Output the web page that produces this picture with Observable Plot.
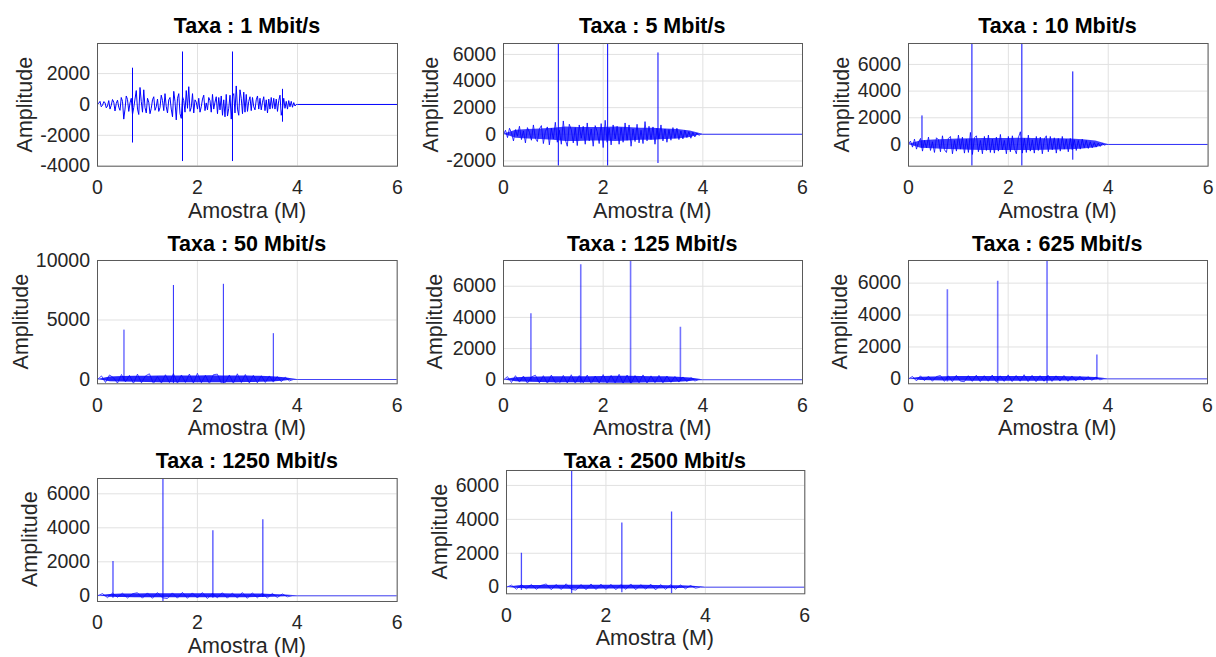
<!DOCTYPE html>
<html><head><meta charset="utf-8">
<script src="https://cdn.jsdelivr.net/npm/d3@7"></script>
<script src="https://cdn.jsdelivr.net/npm/@observablehq/plot@0.6"></script>
<style>
html,body{margin:0;padding:0;background:#fff;}
#fig{position:relative;width:1216px;height:657px;overflow:hidden;font-family:"Liberation Sans",Arial,Helvetica,sans-serif;}
#fig svg{position:absolute;overflow:visible;}
</style></head><body><div id="fig"></div>
<script>
// ---------------- data ----------------
const titles = ["Taxa : 1 Mbit/s","Taxa : 5 Mbit/s","Taxa : 10 Mbit/s","Taxa : 50 Mbit/s",
  "Taxa : 125 Mbit/s","Taxa : 625 Mbit/s","Taxa : 1250 Mbit/s","Taxa : 2500 Mbit/s"];
const xLabel = "Amostra (M)";
const yLabel = "Amplitude";
const xTicks = [0, 2, 4, 6];
const xDomain = [0, 6];
const signalEnd = 4;          // M samples where the received signal stops
const silence = [4, 6];       // zero-valued samples after the signal

const yTicks1 = [-4000, -2000, 0, 2000];
const yTicks2 = [-2000, 0, 2000, 4000, 6000];
const yTicks3 = [0, 2000, 4000, 6000];
const yTicks4 = [0, 5000, 10000];
const yTicks5 = [0, 2000, 4000, 6000];
const yDomain1 = [-4000, 3950];
const yDomain2 = [-2400, 6820];
const yDomain3 = [-1630, 7570];
const yDomain4 = [-360, 10000];
const yDomain5 = [-260, 7650];
const yDomain6 = [-310, 7420];
const yDomain7 = [-335, 6900];
const yDomain8 = [-390, 6880];

// noise samples (evenly spread over 0..4 M)
const noise1 = [0,80,200,-150,-60,180,120,-220,-100,250,
 -300,-50,320,150,-420,60,280,-180,-380,450,
 200,-950,-300,550,320,-450,100,400,-650,-200,
 350,900,-300,-650,1100,200,-500,950,-200,-550,
 400,150,-600,-250,300,500,-380,-150,350,-450,
 -200,600,250,-400,700,-150,-550,300,450,-300,
 -800,850,200,-1000,400,700,-600,-900,500,250,
 -500,900,-250,1150,-450,-200,700,-550,300,150,
 -300,400,-500,-150,350,600,-400,100,-350,450,
 250,-500,650,-300,150,500,-600,450,-350,550,
 -700,300,-800,650,-750,-250,600,-950,550,700,
 -550,1200,-300,-700,950,400,-600,800,-500,650,
 -450,200,500,-400,450,-150,-350,300,550,-300,
 400,-350,150,500,-400,300,-550,350,-300,450,
 -250,400,-300,350,-450,250,600,-700,-300,400,
 -250,200,-300,250,-150,200,-180,120,-100,0];
const noise2 = [0,300,-250,450,100,-500,350,-150,600,-400,
 250,-650,500,150,-450,700,-300,-550,400,650,
 -700,200,550,-800,450,-350,900,-600,300,-750,
 1000,-400,-900,750,350,-650,500,-850,700,-300,
 600,-750,850,-500,400,-900,650,200,-700,800,
 -1000,1050,-600,450,-800,700,-350,600,-750,500,
 -600,850,-450,700,-900,400,-550,750,-650,300,
 -700,950,-500,600,-400,550,-750,450,-350,700,
 -500,400,-600,350,-450,500,-300,450,-400,250,
 -350,300,-250,200,-300,150,-200,100,-80,0];
const noise3 = [0,250,-200,400,-350,150,450,-500,300,-250,
 550,-450,200,-600,500,350,-550,650,-400,-600,
 450,600,-700,300,-500,700,-350,550,-650,400,
 -600,900,-750,500,650,-550,300,-700,600,-450,
 700,-600,400,-650,550,-500,750,-400,300,-700,
 600,-550,650,-300,-700,500,950,-650,450,-600,
 700,-500,350,-650,600,-450,550,-700,400,650,
 -550,600,-400,500,-650,450,-500,600,-350,400,
 -550,450,-400,350,-450,300,-350,400,-250,300,
 -300,200,-250,150,-200,100,-150,80,-50,0];
const noise4 = [0,300,-250,380,150,-300,420,-200,350,-330,450,-280,300,480,-350,250,-300,400,-260,500,
 -320,380,-250,460,-300,520,-280,350,-340,400,450,-300,-250,380,-320,480,-260,420,-300,350,
 -280,320,-250,300,-220,250,-180,200,-120,0];
const noise5 = [0,200,-180,260,-150,240,-220,180,290,-200,260,-230,300,-190,-250,280,-210,320,-230,270,
 -200,300,-260,240,-210,330,-240,280,-200,350,-230,300,-250,270,-200,310,-220,250,-190,280,
 -200,240,-170,210,-150,180,-120,140,-80,0];
const noise6 = [0,150,-130,190,-110,170,-150,140,210,-160,190,-170,220,-140,-180,200,-160,230,-170,200,
 -150,240,-180,190,-160,250,-170,210,-150,260,-170,220,-180,200,-150,230,-160,190,-140,210,
 -150,180,-130,160,-110,140,-90,110,-60,0];
const noise7 = [0,130,-110,160,-90,150,-130,120,180,-140,170,-150,190,-120,-160,170,-140,200,-150,170,
 -130,190,-160,150,-120,180,-140,160,-130,190,-150,170,-120,150,-130,140,-100,110,-60,0];
const noise8 = [0,120,-120,150,-100,160,-130,110,190,-150,160,-140,200,-130,-170,160,-150,190,-140,180,
 -140,170,-150,160,-130,190,-150,150,-120,180,-160,160,-130,140,-120,130,-100,100,-60,0];

// dense-noise envelopes, read at 0, 0.25, ... 4 M
const envX = [0,0.25,0.5,0.75,1,1.25,1.5,1.75,2,2.25,2.5,2.75,3,3.25,3.5,3.75,4];
const envHi2 = [0,300,350,400,450,550,500,500,500,550,500,450,450,400,350,250,0];
const envLo2 = [0,-300,-350,-400,-450,-550,-550,-500,-500,-550,-500,-450,-450,-400,-350,-250,0];
const envHi3 = [0,280,330,380,400,430,450,450,450,460,450,430,420,400,350,250,0];
const envLo3 = [0,-280,-330,-380,-400,-430,-450,-450,-450,-460,-450,-430,-420,-400,-350,-250,0];
const envHi4 = [0,200,250,270,280,300,300,300,300,320,300,300,290,270,230,150,0];
const envLo4 = [0,-180,-220,-240,-250,-270,-270,-270,-270,-280,-270,-270,-260,-240,-200,-130,0];
const envHi5 = [0,130,160,180,190,200,200,200,210,220,220,210,200,190,160,110,0];
const envLo5 = [0,-130,-160,-180,-190,-200,-200,-200,-210,-220,-220,-210,-200,-190,-160,-110,0];
const envHi6 = [0,100,120,130,140,150,150,150,150,150,150,150,140,130,110,80,0];
const envLo6 = [0,-100,-120,-130,-140,-150,-150,-150,-150,-150,-150,-150,-140,-130,-110,-80,0];
const envHi7 = [0,80,100,110,120,120,120,120,120,120,120,110,110,100,80,50,0];
const envLo7 = [0,-80,-100,-110,-120,-120,-120,-120,-120,-120,-120,-110,-110,-100,-80,-50,0];
const envHi8 = [0,80,100,100,110,120,120,120,110,110,110,110,100,90,80,50,0];
const envLo8 = [0,-80,-100,-100,-110,-120,-120,-120,-110,-110,-110,-110,-100,-90,-80,-50,0];

// preamble spikes
const spikeX1 = [0.70, 1.70, 2.70, 3.70], spikeTop1 = [2350, 3400, 3400, 980], spikeBottom1 = [-2500, -3700, -3700, -1150];
const spikeX2 = [1.10, 2.09, 3.10], spikeTop2 = [6820, 6820, 6110], spikeBottom2 = [-2400, -2400, -2200];
const spikeX3 = [0.27, 1.27, 2.27, 3.29], spikeTop3 = [2140, 7570, 7570, 5440], spikeBottom3 = [-300, -1630, -1630, -1180];
const spikeX4 = [0.53, 1.52, 2.52, 3.52], spikeTop4 = [4150, 7900, 8000, 3850], spikeBottom4 = [-150, -360, -360, -150];
const spikeX5 = [0.55, 1.55, 2.55, 3.55], spikeTop5 = [4230, 7370, 7650, 3370], spikeBottom5 = [-100, -260, -260, -100];
const spikeX6 = [0.78, 1.79, 2.78, 3.78], spikeTop6 = [5580, 6120, 7420, 1500], spikeBottom6 = [-200, -310, -310, -50];
const spikeX7 = [0.31, 1.31, 2.31, 3.31], spikeTop7 = [2020, 6900, 3820, 4470], spikeBottom7 = [-150, -335, -150, -100];
const spikeX8 = [0.30, 1.31, 2.32, 3.32], spikeTop8 = [2000, 6880, 3780, 4430], spikeBottom8 = [-200, -390, -330, -390];

// ---------------- layout ----------------
const panels = [
 {noise: noise1, hi: null, lo: null, sx: spikeX1, st: spikeTop1, sb: spikeBottom1, yd: yDomain1, yt: yTicks1,
  l: 97, t: 43.3, w: 300, h: 122.7, titleY: 33.3, ylabX: 32, spikeW: 1, spikeOp: 1, lineW: 1, fillOp: 0},
 {noise: noise2, hi: envHi2, lo: envLo2, sx: spikeX2, st: spikeTop2, sb: spikeBottom2, yd: yDomain2, yt: yTicks2,
  l: 502.7, t: 43.3, w: 299, h: 122.7, titleY: 33.3, ylabX: 437.7, spikeW: 1, spikeOp: 1, lineW: 0.8, fillOp: 0.75},
 {noise: noise3, hi: envHi3, lo: envLo3, sx: spikeX3, st: spikeTop3, sb: spikeBottom3, yd: yDomain3, yt: yTicks3,
  l: 907.7, t: 43.3, w: 299.6, h: 122.7, titleY: 33.3, ylabX: 848.7, spikeW: 1, spikeOp: 1, lineW: 0.8, fillOp: 0.75},
 {noise: noise4, hi: envHi4, lo: envLo4, sx: spikeX4, st: spikeTop4, sb: spikeBottom4, yd: yDomain4, yt: yTicks4,
  l: 97, t: 260, w: 299.7, h: 123.3, titleY: 251, ylabX: 27.5, spikeW: 1, spikeOp: 0.85, lineW: 0.7, fillOp: 0.85},
 {noise: noise5, hi: envHi5, lo: envLo5, sx: spikeX5, st: spikeTop5, sb: spikeBottom5, yd: yDomain5, yt: yTicks5,
  l: 502.7, t: 260, w: 299, h: 123.3, titleY: 251, ylabX: 442, spikeW: 1.6, spikeOp: 0.55, lineW: 0.7, fillOp: 0.85},
 {noise: noise6, hi: envHi6, lo: envLo6, sx: spikeX6, st: spikeTop6, sb: spikeBottom6, yd: yDomain6, yt: yTicks5,
  l: 907.7, t: 260, w: 299, h: 123.3, titleY: 251, ylabX: 847, spikeW: 1.6, spikeOp: 0.55, lineW: 0.7, fillOp: 0.85},
 {noise: noise7, hi: envHi7, lo: envLo7, sx: spikeX7, st: spikeTop7, sb: spikeBottom7, yd: yDomain7, yt: yTicks5,
  l: 97, t: 477.7, w: 299.7, h: 123, titleY: 467.7, ylabX: 37, spikeW: 1.3, spikeOp: 0.7, lineW: 0.7, fillOp: 0.85},
 {noise: noise8, hi: envHi8, lo: envLo8, sx: spikeX8, st: spikeTop8, sb: spikeBottom8, yd: yDomain8, yt: yTicks5,
  l: 505.7, t: 470, w: 298.3, h: 123.3, titleY: 467.7, ylabX: 447, spikeW: 1.3, spikeOp: 0.7, lineW: 0.7, fillOp: 0.85}
];

const fig = document.getElementById("fig");
const ML = 97, MR = 8, MT = 43, MB = 60;
const fontStack = '"Liberation Sans", Arial, Helvetica, sans-serif';

panels.forEach((p, k) => {
  const series = p.noise.map((v, i) => ({x: i * signalEnd / p.noise.length, y: v}))
    .concat(silence.map(x => ({x, y: 0})));
  const spikes = p.sx.map((x, i) => ({x, top: p.st[i], bottom: p.sb[i]}));
  const marks = [
    Plot.gridX(xTicks, {stroke: "#e1e1e1", strokeOpacity: 1}),
    Plot.gridY(p.yt, {stroke: "#e1e1e1", strokeOpacity: 1})
  ];
  if (p.hi) {
    const env = envX.map((x, i) => ({x, hi: p.hi[i], lo: p.lo[i]}));
    marks.push(Plot.areaY(env, {x: "x", y1: "lo", y2: "hi", fill: "#0000ff", fillOpacity: p.fillOp, clip: true}));
  }
  marks.push(
    Plot.line(series, {x: "x", y: "y", stroke: "#0000ff", strokeWidth: p.lineW, clip: true}),
    Plot.ruleX(spikes, {x: "x", y1: "bottom", y2: "top", stroke: "#0000ff", strokeWidth: p.spikeW, strokeOpacity: p.spikeOp, clip: true}),
    Plot.frame({stroke: "#5a5a5a", strokeWidth: 1}),
    Plot.axisX(xTicks, {tickSize: 0, tickPadding: 14, label: null, tickFormat: d => String(d)}),
    Plot.axisY(p.yt, {tickSize: 0, tickPadding: 7.5, label: null, tickFormat: d => String(d)})
  );
  const svg = Plot.plot({
    width: p.w + ML + MR, height: p.h + MT + MB,
    marginLeft: ML, marginRight: MR, marginTop: MT, marginBottom: MB,
    x: {domain: xDomain}, y: {domain: p.yd},
    style: {background: "none", fontSize: "19.5px", fontFamily: fontStack, color: "#262626", overflow: "visible"},
    marks
  });
  svg.style.left = (p.l - ML) + "px";
  svg.style.top = (p.t - MT) + "px";
  fig.appendChild(svg);
});

// titles and axis labels
const overlay = d3.select(fig).append("svg")
  .attr("width", 1216).attr("height", 657)
  .style("left", "0px").style("top", "0px")
  .style("font-family", fontStack);
panels.forEach((p, k) => {
  const cx = p.l + p.w / 2;
  overlay.append("text").attr("x", cx).attr("y", p.titleY)
    .attr("text-anchor", "middle").attr("font-weight", "bold").attr("font-size", 21.5)
    .attr("fill", "#000").text(titles[k]);
  overlay.append("text").attr("x", cx).attr("y", p.t + p.h + 52)
    .attr("text-anchor", "middle").attr("font-size", 21.5).attr("fill", "#262626").text(xLabel);
  const cy = p.t + p.h / 2;
  overlay.append("text").attr("transform", `translate(${p.ylabX},${cy}) rotate(-90)`)
    .attr("text-anchor", "middle").attr("font-size", 21.5).attr("fill", "#262626").text(yLabel);
});
</script></body></html>
